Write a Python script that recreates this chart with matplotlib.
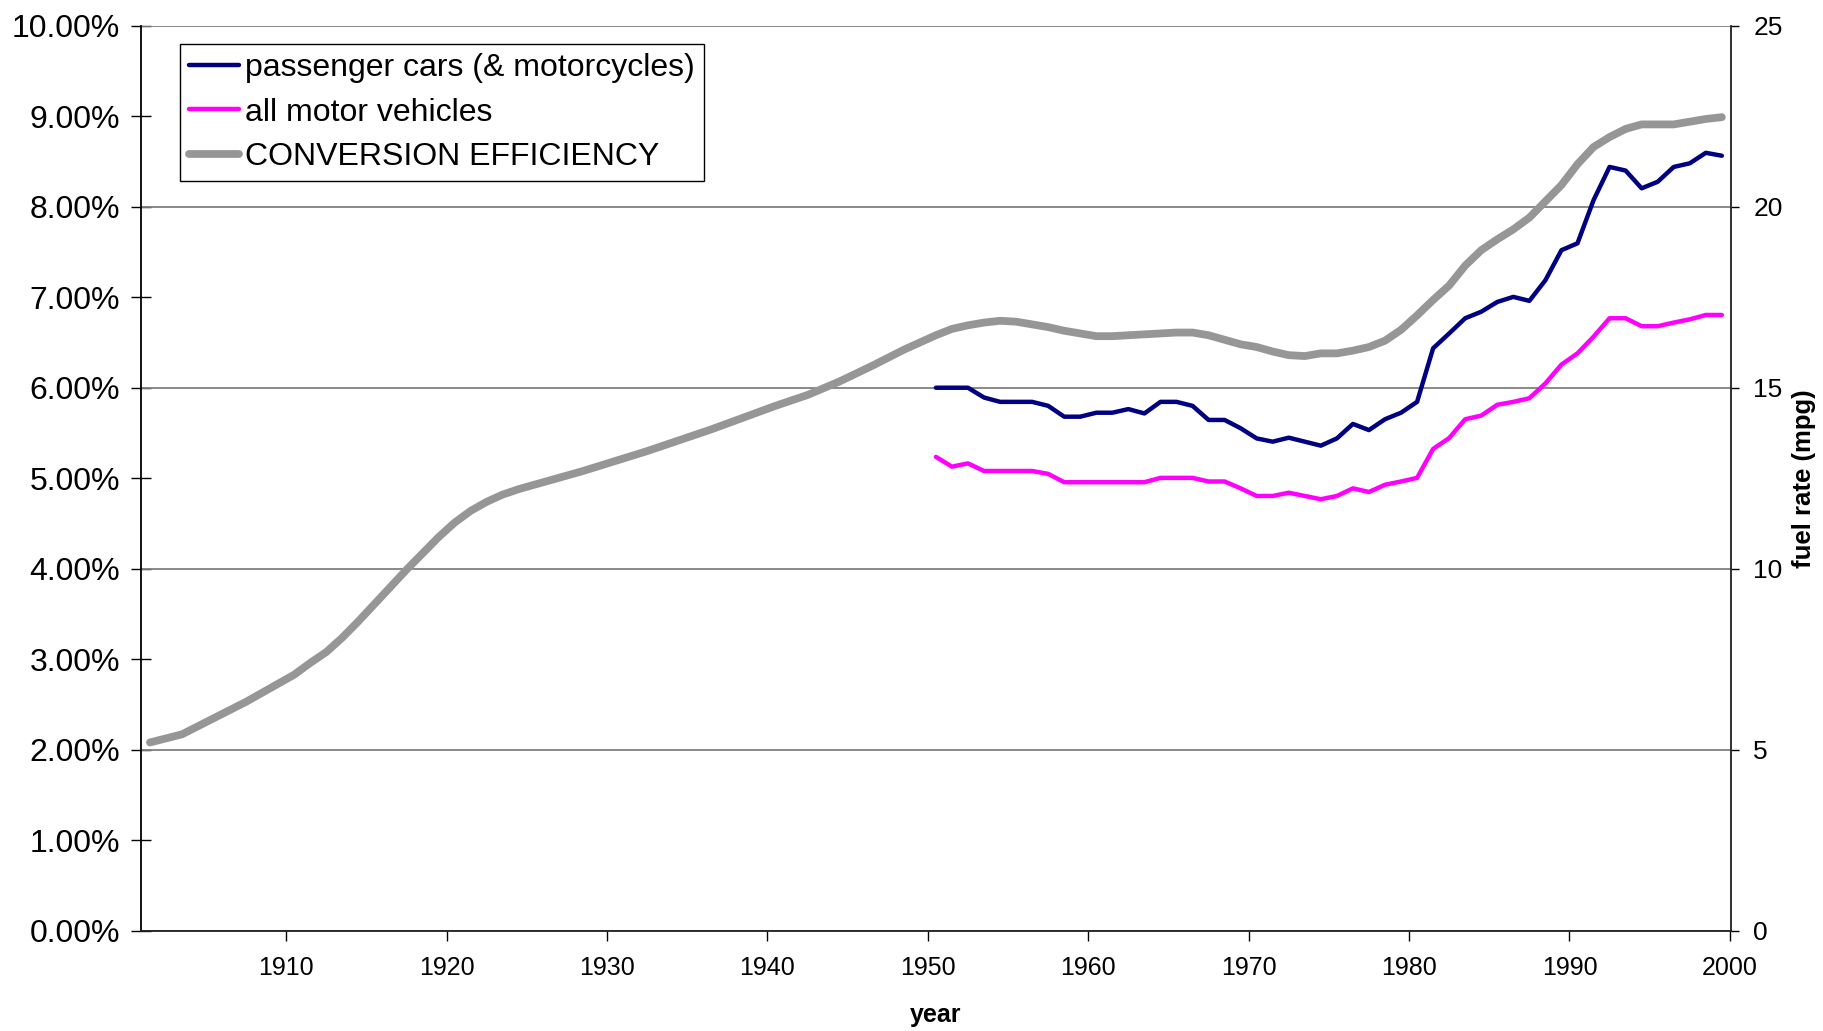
import numpy as np
import matplotlib
matplotlib.use("Agg")
import matplotlib.pyplot as plt
from matplotlib.ticker import PercentFormatter, MultipleLocator, FixedLocator

plt.rcParams['font.family'] = ['Liberation Sans', 'DejaVu Sans']

# ---- data ----
eff_years = [1901, 1903, 1905, 1907, 1909, 1910, 1911, 1912, 1913, 1914, 1915, 1916,
             1917, 1918, 1919, 1920, 1921, 1922, 1923, 1924, 1926, 1928, 1930, 1932,
             1934, 1936, 1938, 1940, 1942, 1944, 1946, 1948, 1950, 1951, 1952, 1953,
             1954, 1955, 1956, 1957, 1958, 1959, 1960, 1961, 1962, 1963, 1964, 1965,
             1966, 1967, 1968, 1969, 1970, 1971, 1972, 1973, 1974, 1975, 1976, 1977,
             1978, 1979, 1980, 1981, 1982, 1983, 1984, 1985, 1986, 1987, 1988, 1989,
             1990, 1991, 1992, 1993, 1994, 1995, 1996, 1997, 1998, 1999]
efficiency_pct = [2.08, 2.17, 2.35, 2.53, 2.73, 2.83, 2.96, 3.08, 3.24, 3.42, 3.61, 3.80,
                  3.99, 4.17, 4.35, 4.51, 4.64, 4.74, 4.82, 4.88, 4.98, 5.08, 5.19, 5.30,
                  5.42, 5.54, 5.67, 5.80, 5.92, 6.07, 6.24, 6.42, 6.58, 6.65, 6.69, 6.72,
                  6.74, 6.73, 6.70, 6.67, 6.63, 6.60, 6.57, 6.57, 6.58, 6.59, 6.60, 6.61,
                  6.61, 6.58, 6.53, 6.48, 6.45, 6.40, 6.36, 6.35, 6.38, 6.38, 6.41, 6.45,
                  6.52, 6.64, 6.80, 6.97, 7.13, 7.35, 7.52, 7.64, 7.75, 7.88, 8.06, 8.24,
                  8.47, 8.66, 8.77, 8.86, 8.91, 8.91, 8.91, 8.94, 8.97, 8.99]

mpg_years = list(range(1950, 2000))
cars_mpg = [15.0, 15.0, 15.0, 14.73, 14.61, 14.61, 14.61, 14.50, 14.20, 14.20,
            14.31, 14.31, 14.41, 14.29, 14.61, 14.61, 14.50, 14.11, 14.11, 13.88,
            13.60, 13.51, 13.62, 13.51, 13.40, 13.60, 14.00, 13.83, 14.13, 14.31,
            14.61, 16.09, 16.50, 16.92, 17.10, 17.37, 17.51, 17.40, 17.97, 18.80,
            18.99, 20.18, 21.10, 21.00, 20.51, 20.69, 21.10, 21.20, 21.49, 21.41]
all_mpg = [13.09, 12.82, 12.91, 12.70, 12.70, 12.70, 12.70, 12.62, 12.39, 12.39,
           12.39, 12.39, 12.39, 12.39, 12.51, 12.51, 12.51, 12.41, 12.41, 12.22,
           12.01, 12.01, 12.10, 12.01, 11.92, 12.01, 12.22, 12.12, 12.32, 12.41,
           12.51, 13.31, 13.61, 14.13, 14.23, 14.53, 14.61, 14.71, 15.12, 15.64,
           15.95, 16.41, 16.92, 16.92, 16.70, 16.70, 16.80, 16.89, 17.01, 17.01]

labels = ["passenger cars (& motorcycles)", "all motor vehicles", "CONVERSION EFFICIENCY"]
x_ticks = list(range(1910, 2001, 10))

# category centring offset (points sit mid-year)
OFF = 0.5

fig = plt.figure(figsize=(18.24, 10.31), dpi=100)
ax = fig.add_axes([0.0772, 0.0973, 0.9490 - 0.0772, 0.975 - 0.0973])
ax2 = ax.twinx()

l_eff, = ax.plot(np.array(eff_years) + OFF, efficiency_pct, color='#969696', lw=5.6,
                 solid_capstyle='round', solid_joinstyle='round', zorder=3)
l_car, = ax2.plot(np.array(mpg_years) + OFF, cars_mpg, color='#000080', lw=3.2,
                  solid_capstyle='round', solid_joinstyle='round', zorder=3)
l_all, = ax2.plot(np.array(mpg_years) + OFF, all_mpg, color='#FF00FF', lw=3.2,
                  solid_capstyle='round', solid_joinstyle='round', zorder=3)

ax.set_xlim(1900.93, 2000.07)
ax.set_ylim(0, 10)
ax2.set_ylim(0, 25)

# left axis
ax.yaxis.set_major_locator(MultipleLocator(1))
ax.yaxis.set_major_formatter(PercentFormatter(xmax=100, decimals=2))
ax.yaxis.set_minor_locator(FixedLocator([0, 2, 4, 6, 8, 10]))
ax.yaxis.remove_overlapping_locs = False
ax.tick_params(axis='y', which='major', direction='inout', length=14, width=1,
               labelsize=23, pad=8, colors='black')
ax.tick_params(axis='y', which='minor', length=0)
ax.grid(True, which='minor', axis='y', color='#808080', lw=1.3, zorder=1)

# bottom axis
ax.set_xticks(x_ticks)
ax.tick_params(axis='x', direction='out', length=7, width=1, labelsize=18, pad=11)
ax.set_xlabel('year', fontsize=18, fontweight='bold', labelpad=17)

# right axis
ax2.set_yticks(range(0, 26, 5))
ax2.tick_params(axis='y', direction='out', length=6, width=1, labelsize=19, pad=10)
ax2.set_ylabel('fuel rate (mpg)', fontsize=18.5, fontweight='bold', labelpad=7)

for a in (ax, ax2):
    a.spines['top'].set_visible(False)
ax.spines['right'].set_visible(False)
ax2.spines['left'].set_visible(False)
ax2.spines['bottom'].set_visible(False)
ax.spines['left'].set_color('black')
ax.spines['bottom'].set_color('#202020')
ax2.spines['right'].set_color('#202020')
for s in ('left', 'bottom'):
    ax.spines[s].set_linewidth(1.3)
ax2.spines['right'].set_linewidth(1.3)

leg = ax2.legend([l_car, l_all, l_eff], labels, loc='upper left',
                 bbox_to_anchor=(0.0248, 0.98), fontsize=23, frameon=True,
                 fancybox=False, edgecolor='black', framealpha=1,
                 handlelength=1.55, handletextpad=0.2, borderpad=0.28,
                 labelspacing=0.46, borderaxespad=0)
leg.get_frame().set_linewidth(1.0)

fig.savefig('out.png', dpi=100, facecolor='white')
